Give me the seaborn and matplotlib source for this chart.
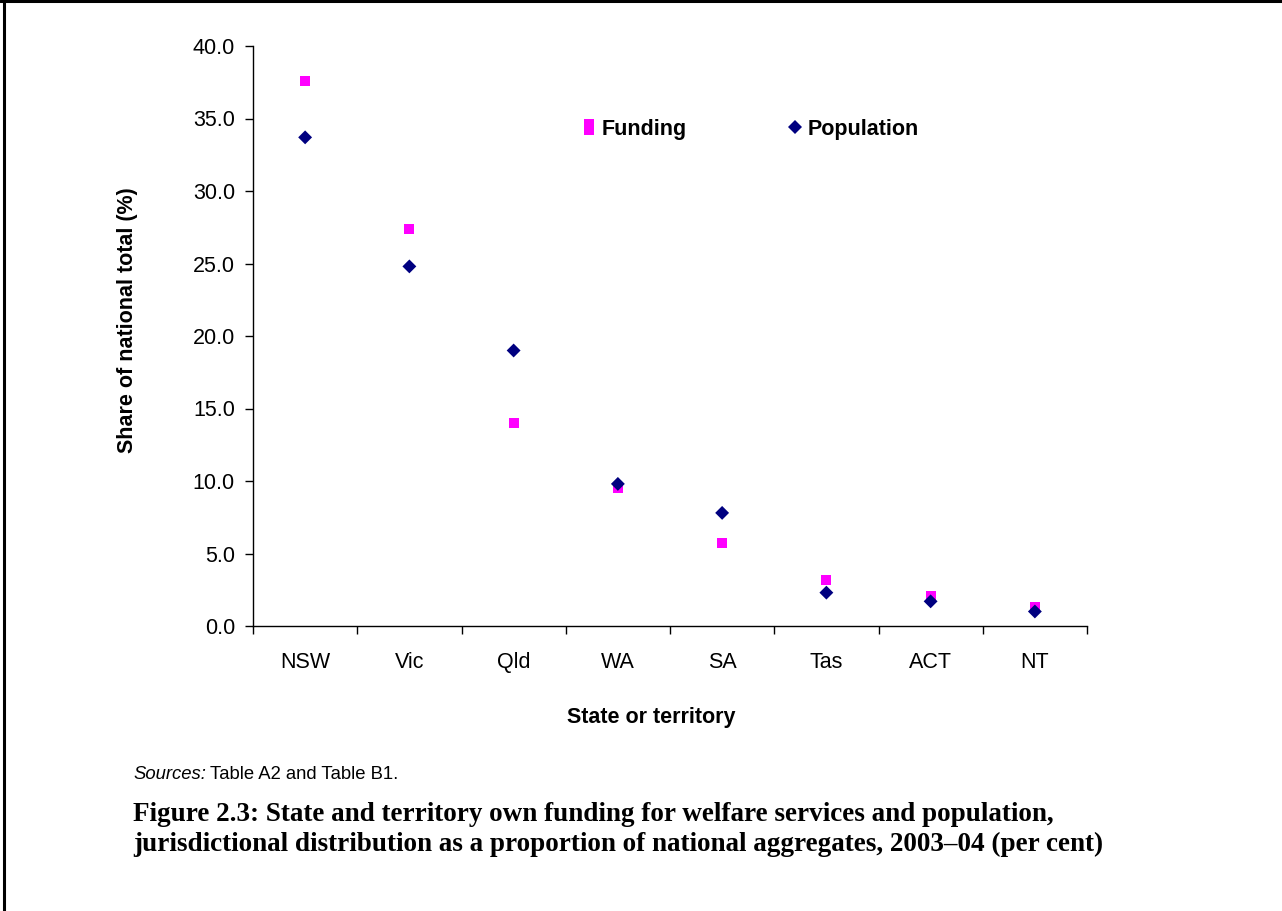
import matplotlib
matplotlib.use("Agg")
import matplotlib.pyplot as plt
from matplotlib.lines import Line2D
import seaborn as sns
import pandas as pd
import numpy as np

states = ["NSW", "Vic", "Qld", "WA", "SA", "Tas", "ACT", "NT"]
funding = [37.6, 27.4, 14.0, 9.5, 5.7, 3.2, 2.1, 1.3]
population = [33.7, 24.8, 19.0, 9.8, 7.8, 2.3, 1.7, 1.0]
yticks = [0, 5, 10, 15, 20, 25, 30, 35, 40]

df_f = pd.DataFrame({"State": states, "Share": funding})
df_p = pd.DataFrame({"State": states, "Share": population})

sns.set_theme(style="white")
plt.rcParams["font.family"] = ["Liberation Sans", "DejaVu Sans"]
for k in ["text.color", "axes.labelcolor", "xtick.color", "ytick.color", "axes.edgecolor"]:
    plt.rcParams[k] = "black"

W, H = 1282, 911
fig = plt.figure(figsize=(W / 100, H / 100), dpi=100)
ax = fig.add_axes([253 / W, 1 - 626 / H, (1087 - 253) / W, (626 - 46) / H])

c_f, c_p = "#FF00FF", "#000080"
sns.scatterplot(data=df_f, x="State", y="Share", color=c_f, marker="s", s=52,
                edgecolor="none", linewidth=0, ax=ax, zorder=3)
sns.scatterplot(data=df_p, x="State", y="Share", color=c_p, marker="D", s=50,
                edgecolor="none", linewidth=0, ax=ax, zorder=4)

FS = 15.5
ax.set_xlim(-0.5, len(states) - 0.5)
ax.set_ylim(0, 40)
ax.set_yticks(yticks)
ax.set_yticklabels([f"{v:.1f}" for v in yticks], fontsize=FS)

ax.set_xticks(np.arange(-0.5, len(states), 1.0))
ax.set_xticklabels([])
ax.set_xticks(np.arange(len(states)), minor=True)
ax.set_xticklabels(states, minor=True, fontsize=FS)
ax.tick_params(axis="x", which="minor", length=0, pad=19)
ax.tick_params(axis="x", which="major", length=6, width=1, color="black", direction="out", bottom=True)
ax.tick_params(axis="y", length=6, width=1, color="black", direction="out", left=True, pad=7)

for s in ["top", "right"]:
    ax.spines[s].set_visible(False)
for s in ["left", "bottom"]:
    ax.spines[s].set_color("black")
    ax.spines[s].set_linewidth(1)

ax.set_xlabel("State or territory", fontsize=FS, fontweight="bold", va="center")
ax.xaxis.set_label_coords((651 - 253) / 834, (626 - 717) / 580)
ax.set_ylabel("Share of national total (%)", fontsize=FS, fontweight="bold", va="center")
ax.yaxis.set_label_coords((127 - 253) / 834, (626 - 320) / 580)

rect = [(-1 / 3, -0.5), (1 / 3, -0.5), (1 / 3, 0.5), (-1 / 3, 0.5), (-1 / 3, -0.5)]
handles = [
    Line2D([], [], marker=rect, linestyle="none", color=c_f, markeredgewidth=0, markersize=11),
    Line2D([], [], marker="D", linestyle="none", color=c_p, markeredgewidth=0, markersize=7.5),
]
ax.legend(handles, ["Funding", "Population"], ncol=2, frameon=False,
          loc="center left", bbox_to_anchor=((559 - 253) / 834, (626 - 129) / 580),
          prop={"weight": "bold", "size": FS}, handletextpad=0.1,
          columnspacing=4.5, handlelength=1.0, borderpad=0.4)

# sources note
fig.canvas.draw()
r = fig.canvas.get_renderer()
t1 = fig.text(133 / W, 1 - 779 / H, "Sources:", fontsize=13.3, style="italic", va="baseline")
bb = t1.get_window_extent(renderer=r)
fig.text((bb.x1 + 4) / W, 1 - 779 / H, "Table A2 and Table B1.", fontsize=13.3, va="baseline")

serif = ["Liberation Serif", "DejaVu Serif"]
fig.text(133 / W, 1 - 821 / H,
         "Figure 2.3: State and territory own funding for welfare services and population,",
         fontsize=19.5, fontweight="bold", family=serif, va="baseline")
fig.text(133 / W, 1 - 851 / H,
         "jurisdictional distribution as a proportion of national aggregates, 2003\u201304 (per cent)",
         fontsize=19.5, fontweight="bold", family=serif, va="baseline")

# page frame (left and top edges)
fig.add_artist(Line2D([4 / W, 4 / W], [0, 1], color="black", linewidth=2.2, transform=fig.transFigure))
fig.add_artist(Line2D([0, 1], [1 - 0.8 / H, 1 - 0.8 / H], color="black", linewidth=2.2, transform=fig.transFigure))

fig.savefig("out.png", dpi=100, facecolor="white")
